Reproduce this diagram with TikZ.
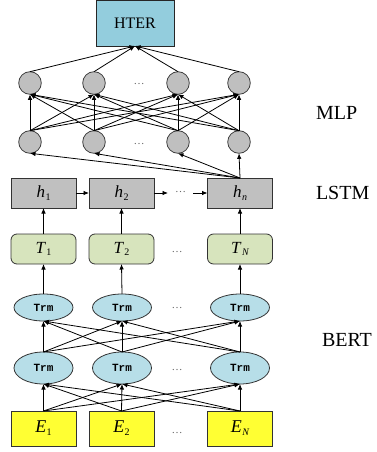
\documentclass[tikz,border=0pt]{standalone}
\usepackage{fontspec}
\setmainfont{Liberation Serif}
\setmonofont{Liberation Mono}
\usetikzlibrary{arrows.meta,shapes.geometric}
\definecolor{hterblue}{HTML}{93CDDD}
\definecolor{trmblue}{HTML}{B7DEE8}
\definecolor{mlpgray}{HTML}{BFBFBF}
\definecolor{lstmgray}{HTML}{C0C0C0}
\definecolor{tgreen}{HTML}{D7E4BD}
\definecolor{eyellow}{HTML}{FFFF33}
\newcommand\lab[2]{\textit{#1}\kern0.5pt\raisebox{-0.35ex}{\fontsize{10}{11}\selectfont #2}}
\begin{document}
\begin{tikzpicture}[x=1pt,y=-1pt,
  every node/.style={inner sep=0pt,outer sep=0pt},
  conn/.style={line width=0.8pt,-{Latex[length=5.5pt,width=4.5pt]}},
  neuron/.style={circle,draw=black!75,line width=0.8pt,fill=mlpgray,minimum size=22.6pt},
  hbox/.style={rectangle,draw=black!80,line width=0.8pt,fill=lstmgray,minimum width=65pt,minimum height=30pt,font=\fontsize{17}{19}\selectfont},
  tbox/.style={rectangle,rounded corners=6pt,draw=black!80,line width=0.8pt,fill=tgreen,minimum width=65pt,minimum height=30pt,font=\fontsize{17}{19}\selectfont},
  ebox/.style={rectangle,draw=black!80,line width=0.8pt,fill=eyellow,minimum width=65pt,minimum height=35pt,font=\fontsize{18}{20}\selectfont},
  trm/.style={ellipse,draw=black!80,line width=0.8pt,fill=trmblue,minimum width=59pt,font=\ttfamily\bfseries\fontsize{11}{12}\selectfont},
  dotsl/.style={font=\fontsize{11}{12}\selectfont,text=black!60},
  lbl/.style={anchor=west,font=\fontsize{20}{24}\selectfont}
]
\useasboundingbox (0,0) rectangle (377,452);
% HTER
\node[rectangle,draw=black!85,line width=0.9pt,fill=hterblue,minimum width=78pt,minimum height=46pt,font=\fontsize{16}{18}\selectfont] (hter) at (135,23) {HTER};
% MLP
\foreach \n/\x in {1/30,2/94,3/178,4/239}{
  \node[neuron] (t\n) at (\x,83) {};
  \node[neuron] (b\n) at (\x,142) {};
}
\node[dotsl] (dt) at (139,84) {\ldots};
\node[dotsl] (db) at (139,144) {\ldots};
% LSTM
\node[hbox] (h1) at (43.5,193) {\lab{h}{1}};
\node[hbox] (h2) at (121.5,193) {\lab{h}{2}};
\node[hbox] (h3) at (240,193) {\lab{h}{\itshape n}};
\coordinate (ha) at (168,193);
\coordinate (hb) at (193,193);
\node[dotsl] (dh) at (180.5,192) {\ldots};
% T
\node[tbox] (T1) at (43.5,249) {\lab{T}{1}};
\node[tbox] (T2) at (121.5,249) {\lab{T}{2}};
\node[tbox] (T3) at (240,249) {\lab{T}{\itshape N}};
\node[dotsl] (dT) at (177,252) {\ldots};
% Trm
\foreach \n/\x in {1/43.5,2/122,3/240}{
  \node[trm,minimum height=27pt] (u\n) at (\x,307.5) {Trm};
  \node[trm,minimum height=32pt] (l\n) at (\x,368) {Trm};
}
\node[dotsl] (du) at (177,308) {\ldots};
\node[dotsl] (dl) at (177,370) {\ldots};
% E
\node[ebox] (E1) at (43.5,428.5) {\lab{E}{1}};
\node[ebox] (E2) at (121.5,428.5) {\lab{E}{2}};
\node[ebox] (E3) at (240,428.5) {\lab{E}{\itshape N}};
\node[dotsl] (dE) at (177,433) {\ldots};
% labels
\node[lbl] (lmlp) at (316,113) {MLP};
\node[lbl] (llstm) at (316,193) {LSTM};
\node[lbl] (lbert) at (322,340) {BERT};
% connectors
\foreach \i in {1,2,3,4}{
  \draw[conn] (t\i.north) -- (hter.south);
  \draw[conn] (h3.north) -- (b\i.south);
  \foreach \j in {1,2,3,4}{
    \draw[conn] (b\j.north) -- (t\i.south);
  }
}
\draw[conn] (h1.east) -- (h2.west);
\draw[conn] (h2.east) -- (ha);
\draw[conn] (hb) -- (h3.west);
\foreach \i in {1,2,3}{
  \draw[conn] (T\i.north) -- (h\i.south);
  \draw[conn] (u\i.north) -- (T\i.south);
  \foreach \j in {1,2,3}{
    \draw[conn] (l\j.north) -- (u\i.south);
    \draw[conn] (E\j.north) -- (l\i.south);
  }
}
\end{tikzpicture}
\end{document}
